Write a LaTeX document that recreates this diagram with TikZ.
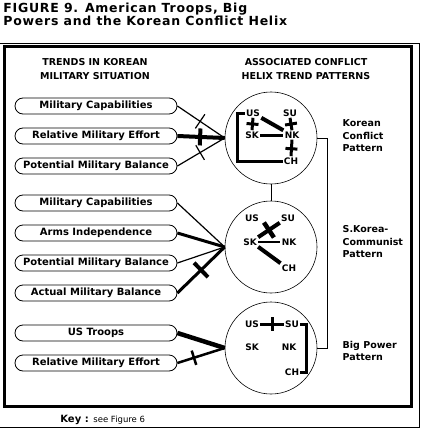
\documentclass[tikz,border=0pt]{standalone}
\usepackage{fontspec}
\setmainfont{DejaVu Sans}
\usepackage{tikz}

\begin{document}
\begin{tikzpicture}[x=1pt, y=-1pt, line width=0.8pt,
  font=\bfseries\fontsize{10}{12}\selectfont,
  trend/.style={draw, rounded corners=8pt, minimum width=162pt, minimum height=16pt, inner sep=0pt},
  helix/.style={draw, circle, minimum size=92pt, inner sep=0pt, line width=0.6pt},
  state/.style={font=\bfseries\fontsize{9}{9}\selectfont, inner sep=1pt},
  pattern label/.style={anchor=west, align=left, font=\bfseries\fontsize{9.5}{12.5}\selectfont},
  crossbar/.style={sloped, fill, inner sep=0pt, minimum width=#1, minimum height=17pt},
  crossbar/.default=1.2pt]
\useasboundingbox (0,0) rectangle (425,433);
% frames
\draw (0,43) -- (419,43) -- (419,427) -- (0,427);
\draw[line width=3pt] (4,47) rectangle (411,406);
% title
\node[anchor=west, align=left, inner sep=0pt, font=\fontsize{12.5}{12}\selectfont\bfseries\addfontfeatures{LetterSpace=6}] (title) at (3,14) {FIGURE 9. American Troops, Big\\Powers and the Korean Conflict Helix};
\node[align=center, font=\bfseries\fontsize{9.5}{14}\selectfont] (trends) at (95,69) {TRENDS IN KOREAN\\MILITARY SITUATION};
\node[align=center, font=\bfseries\fontsize{9.5}{14}\selectfont] (assoc) at (306,69) {ASSOCIATED CONFLICT\\HELIX TREND PATTERNS};
% trends
\node[trend] (mc1) at (96,106) {Military Capabilities};
\node[trend] (rme1) at (96,136) {Relative Military Effort};
\node[trend] (pmb1) at (96,166) {Potential Military Balance};
\node[trend] (mc2) at (96,203) {Military Capabilities};
\node[trend] (ai) at (96,233) {Arms Independence};
\node[trend] (pmb2) at (96,263) {Potential Military Balance};
\node[trend] (amb) at (96,293) {Actual Military Balance};
\node[trend] (ust) at (96,333) {US Troops};
\node[trend] (rme3) at (96,363) {Relative Military Effort};
% helix patterns
\node[helix] (kc) at (271,138) {};
\node[helix] (skc) at (271,247) {};
\node[helix] (bp) at (271,348) {};
\draw (kc.south) -- (skc.north);
\draw (kc.east) -- ++(10,0) |- (bp.east);
\node[pattern label] (kcp) at (339,136) {Korean\\Conflict\\Pattern};
\node[pattern label] (skcp) at (339,242) {S.Korea-\\Communist\\Pattern};
\node[pattern label] (bpp) at (339,351) {Big Power\\Pattern};
% trends to patterns
\draw[line width=1.2pt] (mc1.east) -- node[crossbar, pos=0.48] {} (kc.west);
\draw[line width=4pt] (rme1.east) -- node[crossbar=4pt, pos=0.48] {} (kc.west);
\draw[line width=1.2pt] (pmb1.east) -- node[crossbar, pos=0.48] {} (kc.west);
\draw[line width=1.2pt] (mc2.east) -- (skc.west);
\draw[line width=3pt] (ai.east) -- (skc.west);
\draw[line width=1.2pt] (pmb2.east) -- (skc.west);
\draw[line width=3pt] (amb.east) -- node[crossbar=4pt, minimum height=20pt, pos=0.5] {} (skc.west);
\draw[line width=4.5pt] (ust.east) -- (bp.west);
\draw[line width=2.5pt] (rme3.east) -- node[crossbar=2.5pt, minimum height=15pt, pos=0.35] {} (bp.west);
% Korean conflict pattern
\node[state] (aus) at (253,113) {US};
\node[state] (asu) at (290,113) {SU};
\node[state] (ask) at (252,135) {SK};
\node[state] (ank) at (292,135) {NK};
\node[state] (ach) at (291,161) {CH};
\draw[line width=3pt] (aus.west) -- ++(-7,0) |- (ach.west);
\draw[line width=4pt] (aus.south east) -- (ank.north west);
\draw[line width=3pt] (ask.east) -- (ank.west);
\draw[line width=3pt] (aus.south) -- node[crossbar=3pt, minimum height=12pt] {} (ask.north);
\draw[line width=3pt] (asu.south) -- node[crossbar=3pt, minimum height=12pt] {} (ank.north);
\draw[line width=3pt] (ank.south) -- node[crossbar=3pt, minimum height=12pt, pos=0.55] {} (ach.north);
% S.Korea-communist pattern
\node[state] (bus) at (252,218) {US};
\node[state] (bsu) at (288,218) {SU};
\node[state] (bsk) at (250,242) {SK};
\node[state] (bnk) at (289,242) {NK};
\node[state] (bch) at (289,268) {CH};
\draw[line width=4pt] (bsk.north east) -- node[crossbar=4.5pt, minimum height=18pt] {} (bsu.south west);
\draw[line width=1.5pt] (bsk.east) -- (bnk.west);
\draw[line width=4pt] (bsk.south east) -- (bch.north west);
% big power pattern
\node[state] (cus) at (252,324) {US};
\node[state] (csu) at (292,324) {SU};
\node[state] (csk) at (252,347) {SK};
\node[state] (cnk) at (289,347) {NK};
\node[state] (cch) at (292,372) {CH};
\draw[line width=3pt] (cus.east) -- node[crossbar=3pt, minimum height=14pt] {} (csu.west);
\draw[line width=3pt] (csu.east) -- ++(6,0) |- (cch.east);
% key
\node[anchor=base west, inner sep=0pt] (key) at (60,422) {Key : {\mdseries\fontsize{8.5}{10}\selectfont see Figure 6}};
\end{tikzpicture}
\end{document}
